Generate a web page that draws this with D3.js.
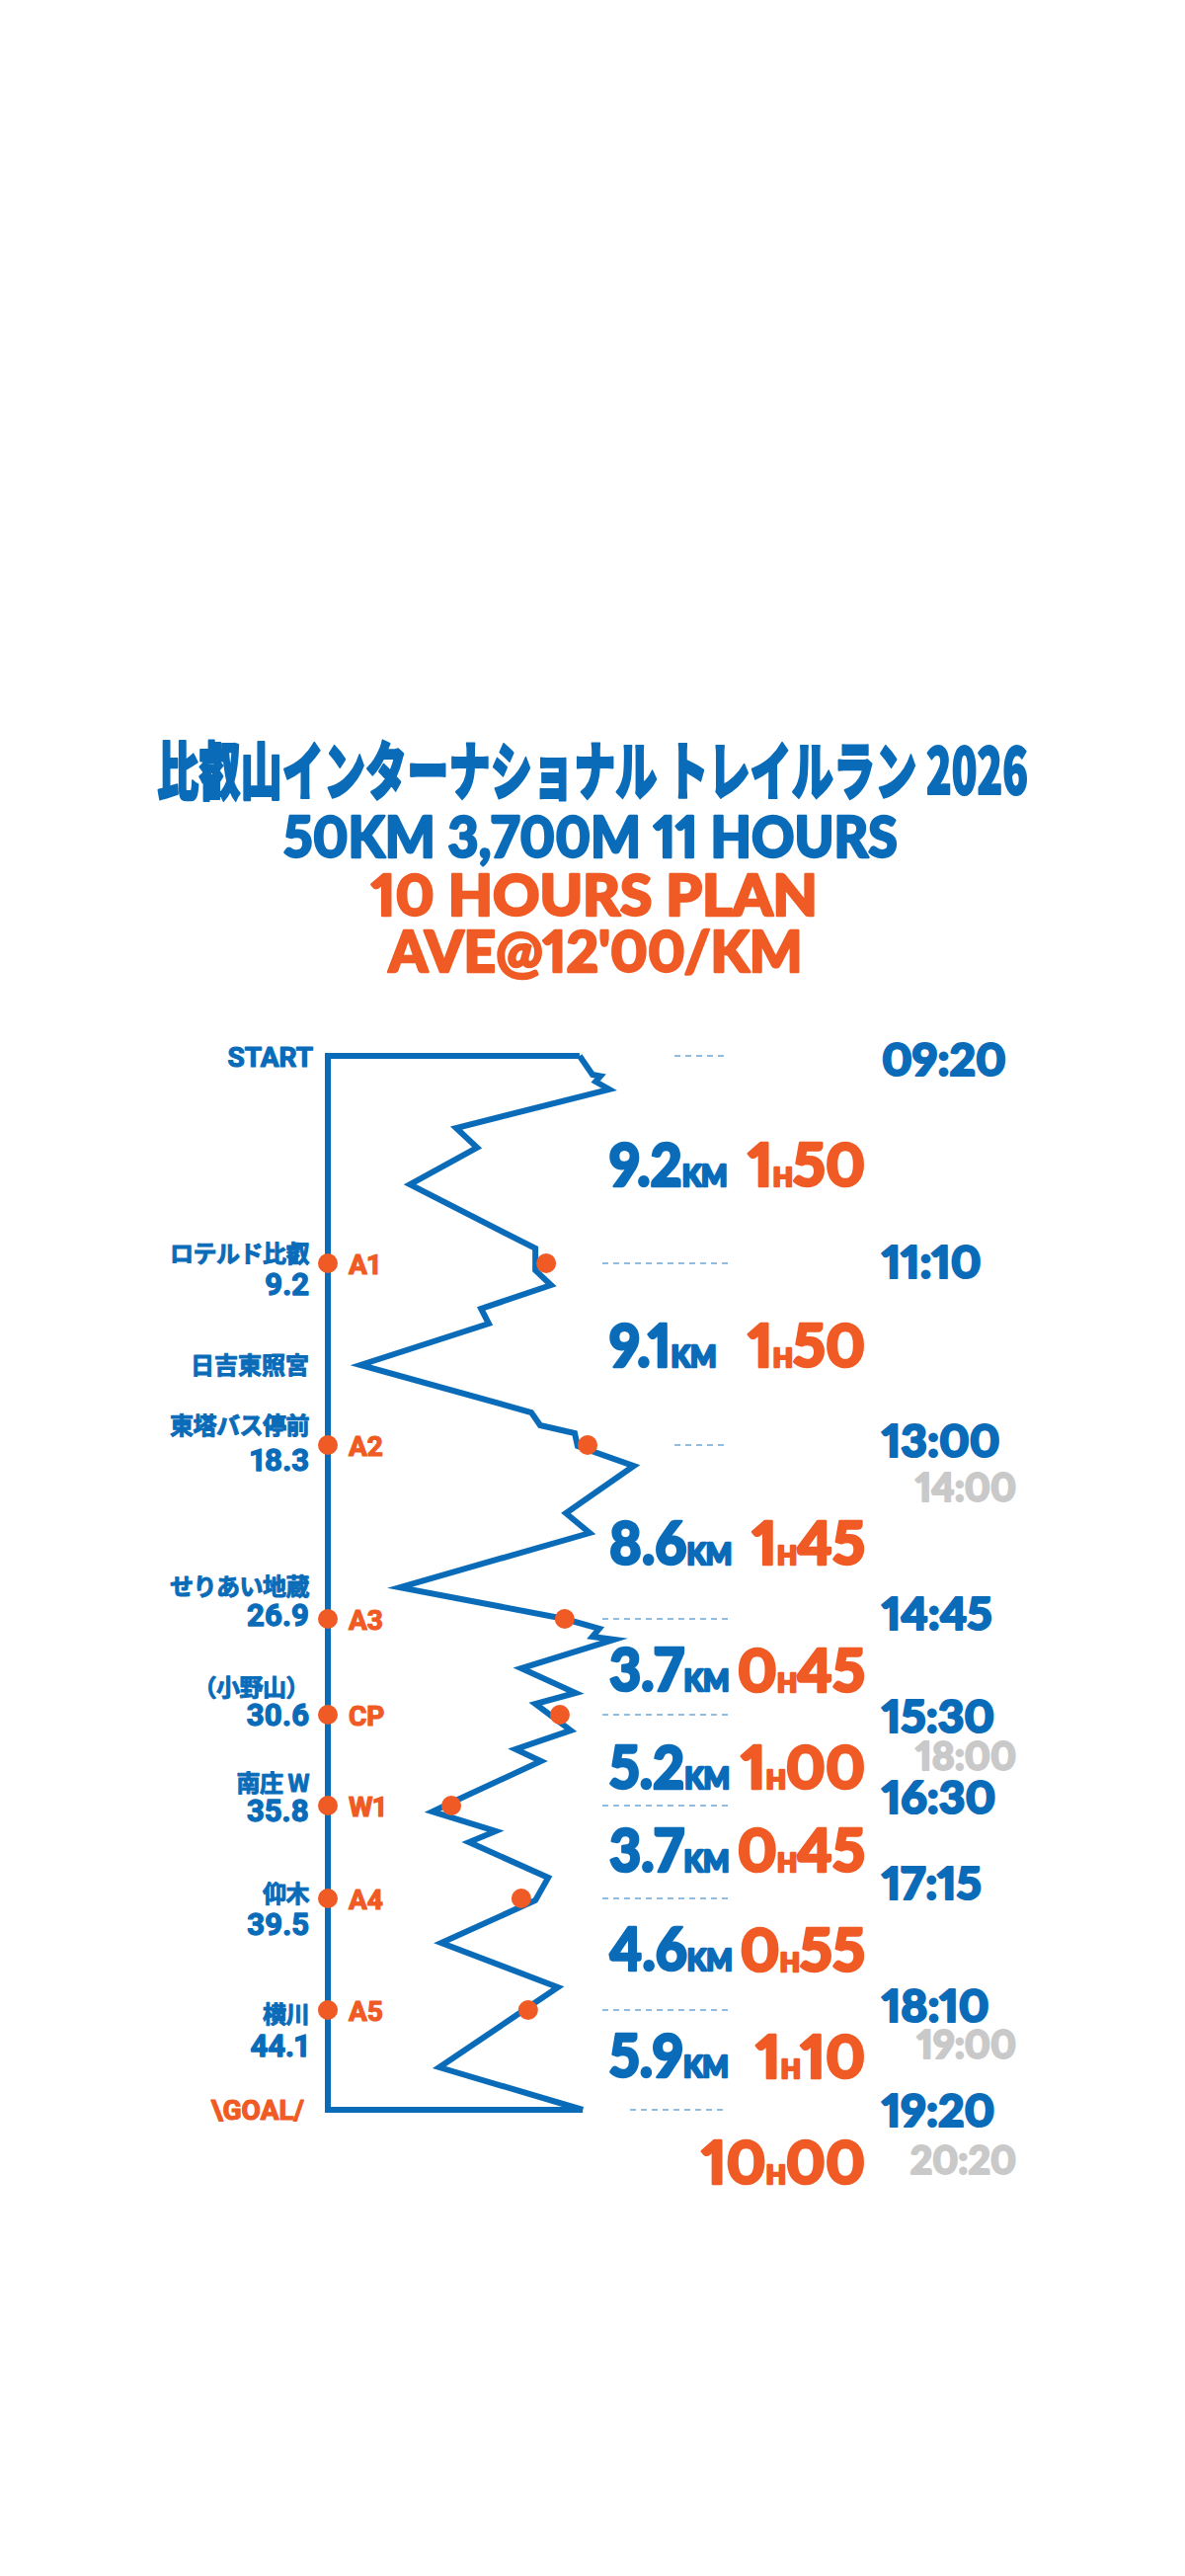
<!DOCTYPE html>
<html><head><meta charset="utf-8">
<script src="https://cdn.jsdelivr.net/npm/d3@7"></script>
<style>body{margin:0;background:#fff} svg{display:block} text{font-variant-numeric:proportional-nums;font-feature-settings:"pnum" 1}</style>
</head><body>
<svg id="chart" width="1200" height="2608"></svg>
<script>
// ---------------- data ----------------
const titleLines = ["比叡山インターナショナル トレイルラン 2026", "50KM 3,700M 11 HOURS", "10 HOURS PLAN", "AVE@12'00/KM"];
const checkpointIds = ["START", "A1", "A2", "A3", "CP", "W1", "A4", "A5", "GOAL"];
const checkpointKm = [0, 9.2, 18.3, 26.9, 30.6, 35.8, 39.5, 44.1, 50];
const checkpointNames = ["", "ロテルド比叡", "東塔バス停前", "せりあい地蔵", "（小野山）", "南庄 W", "仰木", "横川", ""];
const checkpointKmLabels = ["", "9.2", "18.3", "26.9", "30.6", "35.8", "39.5", "44.1", ""];
const checkpointElev = [700, 617, 720, 663, 651, 381, 555, 572, 708];
const landmarkName = "日吉東照宮";
const landmarkKm = 14.29;
const planTimes = ["09:20", "11:10", "13:00", "14:45", "15:30", "16:30", "17:15", "18:10", "19:20"];
const cutoffTimes = ["", "", "14:00", "", "18:00", "", "", "19:00", "20:20"];
const segmentKm = ["9.2", "9.1", "8.6", "3.7", "5.2", "3.7", "4.6", "5.9"];
const segmentHours = ["1", "1", "1", "0", "1", "0", "0", "1"];
const segmentMinutes = ["50", "50", "45", "45", "00", "45", "55", "10"];
const totalHours = "10";
const totalMinutes = "00";
const profileKm = [0, 0.83, 0.9, 1.14, 1.49, 3.20, 4.07, 5.70, 8.54, 9.55, 10.29, 11.47, 12.22, 14.29, 16.67, 17.31, 17.71, 18.35, 19.33, 21.67, 22.65, 25.34, 26.9, 27.28, 27.59, 27.70, 28.81, 29.76, 30.18, 31.50, 32.58, 33.26, 35.63, 36.04, 36.82, 37.26, 38.67, 39.58, 41.33, 43.16, 47.49, 50];
const profileElev = [700, 732, 752, 740, 774, 393, 445, 278, 590, 590, 629, 455, 474, 155, 580, 602, 688, 695, 835, 666, 725, 253, 663, 749, 732, 786, 555, 690, 590, 678, 541, 604, 381, 334, 491, 425, 622, 590, 356, 646, 351, 708];

// ---------------- layout ----------------
const BLUE = "#0a6cb9", ORANGE = "#f05a24", GRAY = "#c9c9c9", DASH = "#6ea6d8";
const axisX = 332;
const y = d3.scaleLinear().domain(checkpointKm).range([1069, 1279, 1463, 1639, 1736, 1828, 1922, 2035, 2136]);
const x = d3.scaleLinear().domain([0, 1000]).range([302, 709]);
const nameShift = [0, -10, -20, -33, -28, -23, -5, 4, 0];
const numShift = [0, 21, 15, -4, 0, 5, 26, 36, 0];
const timeShift = [4, -1, -4, -5, 2, -8, -15, -4, 1];
const cutoffShift = [0, 0, 43, 0, 42, 0, 0, 35, 51];
const segShift = [6, -8, 12, 4, 8, -1, -4, -3];
const dashStart = [683, 610, 683, 610, 610, 610, 610, 610, 638];

const svg = d3.select("#chart");
svg.append("rect").attr("width", 1200).attr("height", 2608).attr("fill", "#fff");

const HEAVY = "Lato, Roboto, sans-serif";
const LATIN = "Roboto, 'Noto Sans', sans-serif";
const JP = "'Noto Sans CJK JP', 'Noto Sans', sans-serif";

function heavy(sel, color, sw) {
  return sel.attr("fill", color).attr("stroke", color).attr("stroke-width", sw)
    .attr("stroke-linejoin", "round").attr("paint-order", "stroke");
}

// ---- title (horizontally fitted to the reference widths) ----
const titleSpec = [
  {cx: 600, base: 804, size: 64, width: 882, fill: BLUE, font: JP, sw: 2.2},
  {cx: 598, base: 868, size: 58, width: 622, fill: BLUE, font: HEAVY, sw: 2.4},
  {cx: 602, base: 927, size: 57, width: 452, fill: ORANGE, font: HEAVY, sw: 2.4},
  {cx: 603, base: 984, size: 58, width: 419, fill: ORANGE, font: HEAVY, sw: 2.4}
];
titleLines.forEach((t, i) => {
  const s = titleSpec[i];
  const el = svg.append("text")
    .attr("x", 0).attr("y", s.base).attr("text-anchor", "middle")
    .attr("font-family", s.font).attr("font-weight", 900).attr("font-size", s.size)
    .text(t);
  heavy(el, s.fill, s.sw);
  const w = el.node().getComputedTextLength();
  el.attr("transform", `translate(${s.cx},0) scale(${s.width / w},1)`);
});

// ---- dashed guide lines ----
svg.append("g").selectAll("line").data(checkpointKm).join("line")
  .attr("x1", (d, i) => dashStart[i]).attr("x2", 737)
  .attr("y1", d => y(d)).attr("y2", d => y(d))
  .attr("stroke", DASH).attr("stroke-width", 1.5).attr("stroke-dasharray", "6,5");

// ---- frame + profile ----
const last = profileKm.length - 1;
svg.append("path")
  .attr("d", `M${x(profileElev[0])},${y(0)}H${axisX}V${y(50)}H${x(profileElev[last])}`)
  .attr("fill", "none").attr("stroke", BLUE).attr("stroke-width", 6).attr("stroke-linejoin", "miter");
const line = d3.line().x(d => x(d[1])).y(d => y(d[0]));
svg.append("path")
  .datum(profileKm.map((k, i) => [k, profileElev[i]]))
  .attr("d", line)
  .attr("fill", "none").attr("stroke", BLUE).attr("stroke-width", 6)
  .attr("stroke-linejoin", "miter").attr("stroke-miterlimit", 10);

// ---- checkpoint dots ----
const mids = d3.range(1, 8);
svg.append("g").selectAll("circle").data(mids).join("circle")
  .attr("cx", axisX).attr("cy", i => y(checkpointKm[i])).attr("r", 10).attr("fill", ORANGE);
svg.append("g").selectAll("circle").data(mids).join("circle")
  .attr("cx", i => x(checkpointElev[i])).attr("cy", i => y(checkpointKm[i])).attr("r", 10).attr("fill", ORANGE);

// ---- checkpoint ids ----
heavy(svg.append("g").selectAll("text").data(mids).join("text")
  .attr("x", 353).attr("y", i => y(checkpointKm[i]) + 11)
  .attr("font-family", LATIN).attr("font-weight", 700).attr("font-size", 28)
  .text(i => checkpointIds[i]), ORANGE, 1.2);

heavy(svg.append("text").attr("x", 317).attr("y", y(0) + 11)
  .attr("text-anchor", "end").attr("font-family", LATIN).attr("font-weight", 700)
  .attr("font-size", 28).text(checkpointIds[0]), BLUE, 1.2);
heavy(svg.append("text").attr("x", 308).attr("y", y(50) + 10)
  .attr("text-anchor", "end").attr("font-family", LATIN).attr("font-weight", 700)
  .attr("font-size", 28).text("\\" + checkpointIds[8] + "/"), ORANGE, 1.2);

// ---- place names & km ----
heavy(svg.append("g").selectAll("text").data(mids).join("text")
  .attr("x", 313).attr("y", i => y(checkpointKm[i]) + nameShift[i] + 9)
  .attr("text-anchor", "end").attr("font-family", JP).attr("font-weight", 700)
  .attr("font-size", 24).attr("letter-spacing", -0.5)
  .text(i => checkpointNames[i]), BLUE, 1);
heavy(svg.append("g").selectAll("text").data(mids).join("text")
  .attr("x", 313).attr("y", i => y(checkpointKm[i]) + numShift[i] + 11)
  .attr("text-anchor", "end").attr("font-family", LATIN).attr("font-weight", 700)
  .attr("font-size", 31).text(i => checkpointKmLabels[i]), BLUE, 1.3);
heavy(svg.append("text").attr("x", 313).attr("y", y(landmarkKm) + 9)
  .attr("text-anchor", "end").attr("font-family", JP).attr("font-weight", 700)
  .attr("font-size", 24).text(landmarkName), BLUE, 1);

// ---- plan times & cutoffs ----
heavy(svg.append("g").selectAll("text").data(planTimes).join("text")
  .attr("x", 893).attr("y", (d, i) => y(checkpointKm[i]) + timeShift[i] + 16)
  .attr("font-family", HEAVY).attr("font-weight", 900).attr("font-size", 46)
  .text(d => d), BLUE, 2.2);
heavy(svg.append("g").selectAll("text").data(cutoffTimes).join("text")
  .attr("x", 1029).attr("y", (d, i) => y(checkpointKm[i]) + cutoffShift[i] + 14)
  .attr("text-anchor", "end")
  .attr("font-family", HEAVY).attr("font-weight", 900).attr("font-size", 39)
  .text(d => d), GRAY, 2);

// ---- segment labels ----
const segs = d3.range(segmentKm.length);
const segY = i => (y(checkpointKm[i]) + y(checkpointKm[i + 1])) / 2 + segShift[i];
const dist = heavy(svg.append("g").selectAll("text").data(segs).join("text")
  .attr("x", 0).attr("y", i => segY(i) + 21)
  .attr("transform", "translate(617,0) scale(0.93,1)")
  .attr("font-family", HEAVY).attr("font-weight", 900), BLUE, 2.6);
dist.append("tspan").attr("font-size", 60).text(i => segmentKm[i]);
dist.append("tspan").attr("font-size", 30).text("KM");

const dur = heavy(svg.append("g").selectAll("text").data(segs).join("text")
  .attr("x", 876).attr("y", i => segY(i) + 21).attr("text-anchor", "end")
  .attr("font-family", HEAVY).attr("font-weight", 900), ORANGE, 2.6);
dur.append("tspan").attr("font-size", 60).text(i => segmentHours[i]);
dur.append("tspan").attr("font-size", 26).text("H");
dur.append("tspan").attr("font-size", 60).text(i => segmentMinutes[i]);

const tot = heavy(svg.append("text").attr("x", 876).attr("y", 2211).attr("text-anchor", "end")
  .attr("font-family", HEAVY).attr("font-weight", 900), ORANGE, 2.6);
tot.append("tspan").attr("font-size", 60).text(totalHours);
tot.append("tspan").attr("font-size", 26).text("H");
tot.append("tspan").attr("font-size", 60).text(totalMinutes);
</script>
</body></html>
